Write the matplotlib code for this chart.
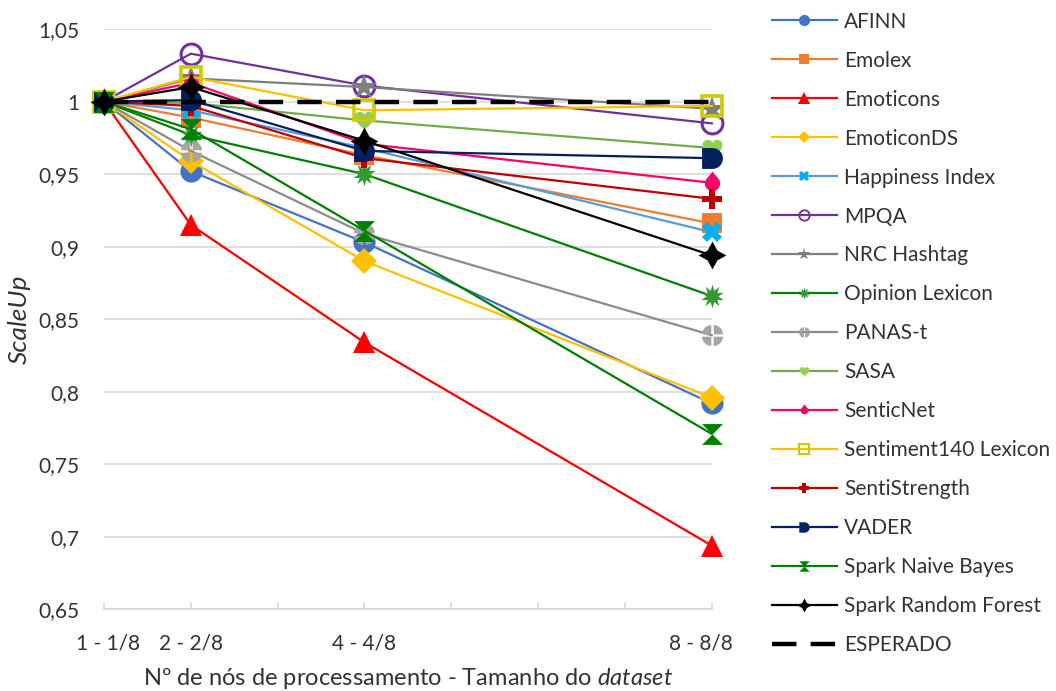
import numpy as np
import matplotlib
matplotlib.use('Agg')
import matplotlib.pyplot as plt
import matplotlib.transforms as mtransforms
from matplotlib.path import Path
from matplotlib.lines import Line2D

plt.rcParams['font.family'] = ['Lato', 'DejaVu Sans']
plt.rcParams['mathtext.fontset'] = 'custom'
plt.rcParams['mathtext.rm'] = 'Lato'
plt.rcParams['mathtext.it'] = 'Lato:italic'

TEXT = '#333333'

# Nodes used (dataset grows with them: n - n/8)
nodes = [1, 2, 4, 8]
node_labels = ['1 - 1/8', '2 - 2/8', '4 - 4/8', '8 - 8/8']

afinn = [1.000, 0.952, 0.903, 0.792]
emolex = [1.000, 0.989, 0.963, 0.916]
emoticons = [1.000, 0.915, 0.834, 0.694]
emoticonds = [1.000, 0.959, 0.890, 0.796]
happiness = [1.000, 0.994, 0.968, 0.910]
mpqa = [1.000, 1.033, 1.011, 0.985]
nrc_hashtag = [1.000, 1.016, 1.010, 0.995]
opinion_lexicon = [1.000, 0.977, 0.950, 0.866]
panas_t = [1.000, 0.966, 0.909, 0.839]
sasa = [1.000, 0.999, 0.987, 0.968]
senticnet = [1.000, 1.013, 0.971, 0.944]
sentiment140 = [1.000, 1.017, 0.994, 0.997]
sentistrength = [1.000, 0.997, 0.961, 0.933]
vader = [1.000, 1.001, 0.966, 0.961]
spark_nb = [1.000, 0.981, 0.911, 0.771]
spark_rf = [1.000, 1.010, 0.973, 0.894]
esperado = [1.000, 1.000, 1.000, 1.000]


# ---- custom marker shapes ----
def d_shape():
    arc = Path.arc(-90, 90)
    verts = list(arc.vertices) + [(-1, 1), (-1, -1), (0, -1)]
    codes = list(arc.codes) + [Path.LINETO, Path.LINETO, Path.CLOSEPOLY]
    return Path(verts, codes)


def drop_shape():
    arc = Path.arc(150, 390)
    verts = list(arc.vertices) + [(0, 1.55), (arc.vertices[0][0], arc.vertices[0][1])]
    codes = list(arc.codes) + [Path.LINETO, Path.CLOSEPOLY]
    return Path(verts, codes)


def heart_shape():
    verts = [(0, -0.9),
             (-0.55, -0.45), (-1.0, -0.1), (-1.0, 0.35),
             (-1.0, 0.95), (-0.15, 1.05), (0, 0.55),
             (0.15, 1.05), (1.0, 0.95), (1.0, 0.35),
             (1.0, -0.1), (0.55, -0.45), (0, -0.9),
             (0, -0.9)]
    codes = [Path.MOVETO] + [Path.CURVE4] * 12 + [Path.CLOSEPOLY]
    return Path(verts, codes)


def hourglass_shape():
    return Path([(-1, 1), (1, 1), (-1, -1), (1, -1), (-1, 1)],
                [Path.MOVETO, Path.LINETO, Path.LINETO, Path.LINETO, Path.CLOSEPOLY])


def split_circle():
    g = 0.13
    parts = []
    for q, (sx, sy) in enumerate([(1, 1), (-1, 1), (-1, -1), (1, -1)]):
        w = Path.wedge(90 * q, 90 * (q + 1))
        parts.append(Path(w.vertices + np.array([sx * g, sy * g]), w.codes))
    return Path.make_compound_path(*parts)


series = [
    ('AFINN', afinn, dict(color='#4472C4', marker='o', mfc='#4472C4', ms=16)),
    ('Emolex', emolex, dict(color='#ED7D31', marker='s', mfc='#ED7D31', ms=14)),
    ('Emoticons', emoticons, dict(color='#FF0000', marker='^', mfc='#FF0000', ms=16)),
    ('EmoticonDS', emoticonds, dict(color='#FFC000', marker='D', mfc='#FFC000', ms=13)),
    ('Happiness Index', happiness, dict(color='#5B9BD5', marker='X', mfc='#00B0F0', ms=15)),
    ('MPQA', mpqa, dict(color='#7030A0', marker='o', mfc='none', mec='#7030A0', mew=2.2, ms=15)),
    ('NRC Hashtag', nrc_hashtag, dict(color='#7F7F7F', marker='*', mfc='#7F7F7F', ms=19)),
    ('Opinion Lexicon', opinion_lexicon, dict(color='#008000', marker=(10, 1, 0), mfc='#339933', ms=17)),
    ('PANAS-t', panas_t, dict(color='#8C8C8C', marker=split_circle(), mfc='#A5A5A5', ms=15)),
    ('SASA', sasa, dict(color='#70AD47', marker=heart_shape(), mfc='#92D050', ms=15)),
    ('SenticNet', senticnet, dict(color='#FF0066', marker=drop_shape(), mfc='#FF0066', ms=17)),
    ('Sentiment140 Lexicon', sentiment140, dict(color='#FFC000', marker='s', mfc='none', mec='#CCCC00', mew=2.6, ms=14)),
    ('SentiStrength', sentistrength, dict(color='#C00000', marker='P', mfc='#C00000', ms=14)),
    ('VADER', vader, dict(color='#002060', marker=d_shape(), mfc='#002060', ms=15)),
    ('Spark Naive Bayes', spark_nb, dict(color='#008000', marker=hourglass_shape(), mfc='#008000', ms=15)),
    ('Spark Random Forest', spark_rf, dict(color='#000000', marker=(4, 1, 0), mfc='#000000', ms=20)),
]

fig = plt.figure(figsize=(10.56, 6.91), dpi=100)
ax = fig.add_axes([0.0985, 0.118, 0.5755, 0.840])

handles = []
for name, vals, st in series:
    st = dict(st)
    ms = st.pop('ms')
    mew = st.pop('mew', 0)
    mec = st.pop('mec', st['mfc'])
    ax.plot(nodes, vals, lw=1.6, ms=ms, mew=mew, mec=mec, clip_on=False, **st)
    handles.append(Line2D([], [], lw=1.6, ms=ms * 0.5, mew=mew * 0.6, mec=mec,
                          label=name, **st))

ax.plot(nodes, esperado, color='black', lw=3.2, dashes=(5.5, 3.2), clip_on=False)
handles.append(Line2D([], [], color='black', lw=3.2, dashes=(5.5, 3.2), label='ESPERADO'))

ax.set_xlim(1, 8)
ax.set_ylim(0.65, 1.05)

ax.set_xticks(range(1, 9))
xt = ['' for _ in range(1, 9)]
for n, lab in zip(nodes, node_labels):
    xt[n - 1] = lab
ax.set_xticklabels(xt)

yt = np.arange(0.65, 1.0501, 0.05)
ax.set_yticks(yt)
ax.set_yticklabels([('%.2f' % v).rstrip('0').rstrip('.').replace('.', ',') for v in yt])

ax.tick_params(axis='x', direction='in', length=5, width=1.2, color='#D9D9D9',
               labelsize=15, pad=17, labelcolor=TEXT)
ax.tick_params(axis='y', length=0, labelsize=15, pad=18, labelcolor=TEXT)

# keep the outer category labels inside the plot width
xlabels = ax.get_xticklabels()
xlabels[0].set_transform(xlabels[0].get_transform() +
                         mtransforms.ScaledTranslation(3 / 72, 0, fig.dpi_scale_trans))
xlabels[-1].set_transform(xlabels[-1].get_transform() +
                          mtransforms.ScaledTranslation(-8 / 72, 0, fig.dpi_scale_trans))

ax.grid(axis='y', color='#D9D9D9', lw=1.2)
ax.set_axisbelow(True)
for s in ['left', 'right', 'top']:
    ax.spines[s].set_visible(False)
ax.spines['bottom'].set_color('#D9D9D9')
ax.spines['bottom'].set_linewidth(1.2)

ax.set_ylabel('ScaleUp', fontsize=19, style='italic', color=TEXT, labelpad=5)
ax.set_xlabel(r'Nº de nós de processamento - Tamanho do $\it{dataset}$',
              fontsize=17, color=TEXT, labelpad=9)

fig.legend(handles=handles, loc='upper left', bbox_to_anchor=(0.731, 0.983),
           frameon=False, fontsize=15, handlelength=3.1, handletextpad=0.35,
           labelspacing=0.91, borderpad=0, borderaxespad=0, labelcolor=TEXT)

fig.savefig('out.png', dpi=100)
